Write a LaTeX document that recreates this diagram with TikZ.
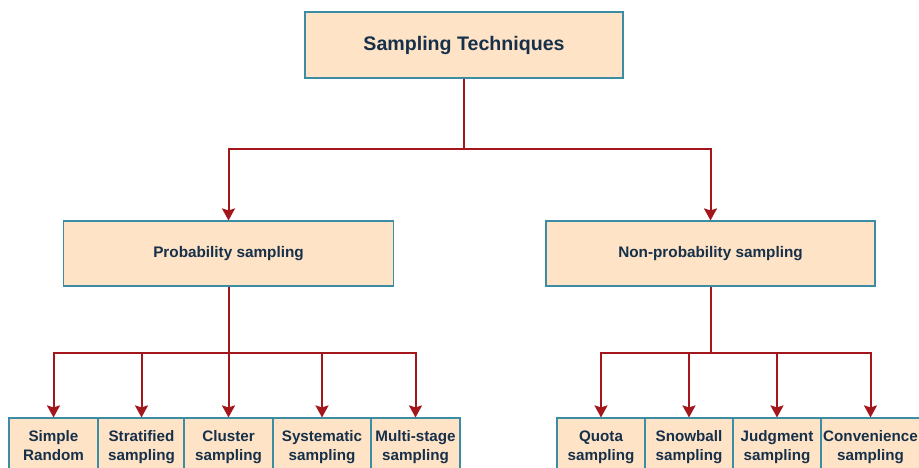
\documentclass[tikz,border=0pt]{standalone}
\usepackage{fontspec}
\setmainfont{Liberation Sans}
\usetikzlibrary{arrows.meta}
\definecolor{boxfill}{HTML}{FEE3C6}
\definecolor{boxedge}{HTML}{3A8DA2}
\definecolor{linkred}{HTML}{A3161C}
\definecolor{txt}{HTML}{16304A}
\tikzset{
  box/.style={draw=boxedge, line width=1.1pt, fill=boxfill, inner sep=0pt, text=txt, align=center},
  bigbox/.style={box, font=\fontsize{19.6}{22}\selectfont\bfseries},
  midbox/.style={box, font=\fontsize{15.3}{18}\selectfont\bfseries},
  leafbox/.style={box, minimum height=58pt, execute at end node={\vphantom{g}}, font=\fontsize{15.2}{18.7}\selectfont\bfseries},
  link/.style={draw=linkred, line width=2pt},
  arrowlink/.style={link, -{Stealth[length=12pt,width=13pt,inset=2pt]}}
}
\begin{document}
\begin{tikzpicture}[x=1pt,y=-1pt]
\clip (0,0) rectangle (919,468);
\fill[white] (0,0) rectangle (919,468);
% top
\node[bigbox, minimum width=318pt, minimum height=66pt] (top) at (464,45) {Sampling Techniques};
\node[midbox, minimum width=330pt, minimum height=65pt] (prob) at (228.5,253.5) {Probability sampling};
\node[midbox, minimum width=329pt, minimum height=65pt] (nonprob) at (710.5,253.5) {Non-probability sampling};
% leaves left
\node[leafbox, minimum width=89pt] (simple) at (53.5,447) {Simple\\Random};
\node[leafbox, minimum width=87pt] (strat) at (141.5,447) {Stratified\\sampling};
\node[leafbox, minimum width=89pt] (cluster) at (228.5,447) {Cluster\\sampling};
\node[leafbox, minimum width=98pt] (system) at (322,447) {Systematic\\sampling};
\node[leafbox, minimum width=89pt] (multi) at (415.5,447) {Multi-stage\\sampling};
% leaves right
\node[leafbox, minimum width=88pt] (quota) at (601,447) {Quota\\sampling};
\node[leafbox, minimum width=88pt] (snow) at (689,447) {Snowball\\sampling};
\node[leafbox, minimum width=88pt] (judg) at (777,447) {Judgment\\sampling};
\node[leafbox, minimum width=99pt] (conv) at (870.5,447) {Convenience\\sampling};
% junctions
\coordinate (j1) at (464,149);
\coordinate (j2) at (228.5,353);
\coordinate (j3) at (710.5,353);
\draw[link] (top.south) -- (j1);
\draw[arrowlink] (j1) -| (prob.north);
\draw[arrowlink] (j1) -| (nonprob.north);
\draw[link] (prob.south) -- (j2);
\foreach \c in {simple,strat,cluster,system,multi} \draw[arrowlink] (j2) -| (\c.north);
\draw[link] (nonprob.south) -- (j3);
\foreach \c in {quota,snow,judg,conv} \draw[arrowlink] (j3) -| (\c.north);
\end{tikzpicture}
\end{document}
